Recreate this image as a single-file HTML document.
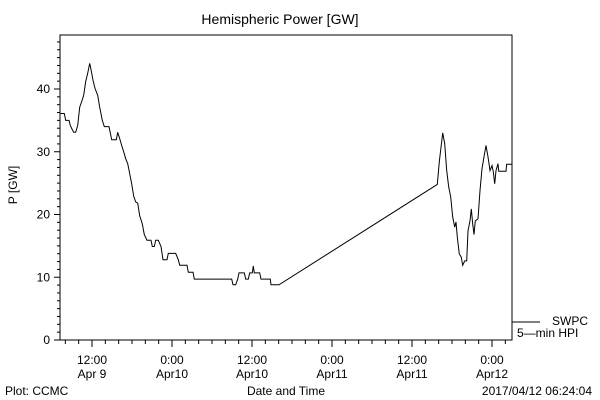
<!DOCTYPE html>
<html><head><meta charset="utf-8"><style>
body{margin:0;background:#fff;}
svg{display:block;font-family:"Liberation Sans",sans-serif;}
text{fill:#000;}
</style></head><body>
<svg width="600" height="400" viewBox="0 0 600 400">
<rect x="0" y="0" width="600" height="400" fill="#fff"/>
<text x="280" y="24" font-size="14" text-anchor="middle">Hemispheric Power [GW]</text>
<g id="axes"></g>
<path id="series" fill="none" stroke="#000" stroke-width="1"/>
<text x="17" y="185" font-size="12" text-anchor="middle" transform="rotate(-90 17 185)">P [GW]</text>
<text x="286" y="395" font-size="12" text-anchor="middle">Date and Time</text>
<text x="5" y="395" font-size="12">Plot: CCMC</text>
<text x="592" y="395" font-size="12" text-anchor="end">2017/04/12 06:24:04</text>
<g>
<line x1="512" y1="322" x2="540" y2="322" stroke="#000" stroke-width="1"/>
<text x="552" y="325" font-size="12">SWPC</text>
<text x="517" y="337" font-size="12">5—min HPI</text>
</g>
</svg>
<script>
// hours since Apr 9 00:00
const times=[7.3,7.85,8.05,8.55,8.75,8.95,9.25,9.55,9.85,10.15,10.45,10.75,11.05,11.35,11.65,11.85,12.15,12.45,12.85,13.15,13.55,13.85,14.55,14.95,15.65,15.85,16.15,16.45,16.75,17.05,17.35,17.65,17.95,18.25,18.55,18.85,19.15,19.55,19.85,20.25,20.85,21.05,21.35,21.55,21.95,22.35,22.65,23.25,23.45,24.55,24.95,25.15,26.25,26.45,27.15,27.35,32.95,33.15,33.55,33.85,34.05,34.85,35.05,35.45,35.65,36.05,36.2,36.35,37.15,37.35,38.75,38.85,40.05,
63.8,64.1,64.6,64.9,65.2,65.5,65.8,66.1,66.4,66.6,66.8,67.1,67.4,67.6,67.9,68.2,68.4,68.7,68.9,69.1,69.3,69.5,69.9,70.2,70.5,70.8,71.1,71.4,71.7,72.0,72.2,72.4,72.6,72.9,73.0,74.1,74.2,75.0];
const values=[36.1,36.1,35.0,35.0,34.2,33.7,33.1,33.1,34.2,37.1,38.0,39.0,41.2,42.5,44.1,43.1,41.4,40.1,39.0,37.1,35.0,34.0,34.0,31.9,31.9,33.1,32.1,31.0,30.0,28.9,28.1,26.5,24.9,22.9,22.0,21.8,19.8,18.5,16.8,15.9,15.9,14.9,14.9,15.9,15.9,14.9,12.8,12.8,13.8,13.8,12.8,11.9,11.9,10.8,10.8,9.7,9.7,8.8,8.8,9.7,10.7,10.7,9.7,9.7,10.7,10.7,11.8,10.7,10.7,9.7,9.7,8.8,8.8,
24.8,28.4,33.0,31.3,27.0,24.4,22.8,19.6,18.0,18.8,16.4,13.7,13.2,11.9,12.6,12.6,17.4,19.0,20.9,18.5,16.8,19.0,19.3,23.8,27.3,29.2,31.0,29.2,27.0,27.8,26.8,24.9,27.0,28.1,26.9,26.9,28.0,28.0];
const yTicks=[0,10,20,30,40];
const xTickHours=[12,24,36,48,60,72];
const xTickLabels=[["12:00","Apr 9"],["0:00","Apr10"],["12:00","Apr10"],["0:00","Apr11"],["12:00","Apr11"],["0:00","Apr12"]];

const L=60,R=512,T=35,B=340;
const t0=7.2,t1=75,vMax=(B-T)/6.275;
function xs(t){return L+(t-t0)/(t1-t0)*(R-L);}
function ys(v){return B-v*6.275;}
const NS="http://www.w3.org/2000/svg";
const ax=document.getElementById('axes');
function mk(tag,attrs,parent){const e=document.createElementNS(NS,tag);for(const k in attrs)e.setAttribute(k,attrs[k]);(parent||ax).appendChild(e);return e;}
const frame=mk('rect',{x:L,y:T,width:R-L,height:B-T,fill:'none',stroke:'#000','stroke-width':1});


for(let v=0;v<=vMax+0.01;v+=1.25){
  const major=Math.abs(v/10-Math.round(v/10))<1e-6;
  const l=mk('line',{x1:L-(major?6:3),x2:L,y1:ys(v),y2:ys(v),stroke:'#000','stroke-width':1});
  
  
}
yTicks.forEach(v=>{
  const tx=mk('text',{x:L-10,y:ys(v)+4,'font-size':12,'text-anchor':'end'});
  tx.textContent=v;
  
  
});
for(let h=8;h<=t1;h+=2){
  const major=h%12===0;
  const l=mk('line',{x1:xs(h),x2:xs(h),y1:B,y2:B+(major?7:4),stroke:'#000','stroke-width':1});
  
  
}
xTickHours.forEach((h,i)=>{
  const a=mk('text',{x:xs(h),y:364,'font-size':12,'text-anchor':'middle'});
  a.textContent=xTickLabels[i][0];
  
  
  const b=mk('text',{x:xs(h),y:378,'font-size':12,'text-anchor':'middle'});
  b.textContent=xTickLabels[i][1];
  
  
});
let d='';
times.forEach((t,i)=>{d+=(i?'L':'M')+xs(t).toFixed(1)+' '+ys(values[i]).toFixed(1);});
document.getElementById('series').setAttribute('d',d);
</script>
</body></html>
